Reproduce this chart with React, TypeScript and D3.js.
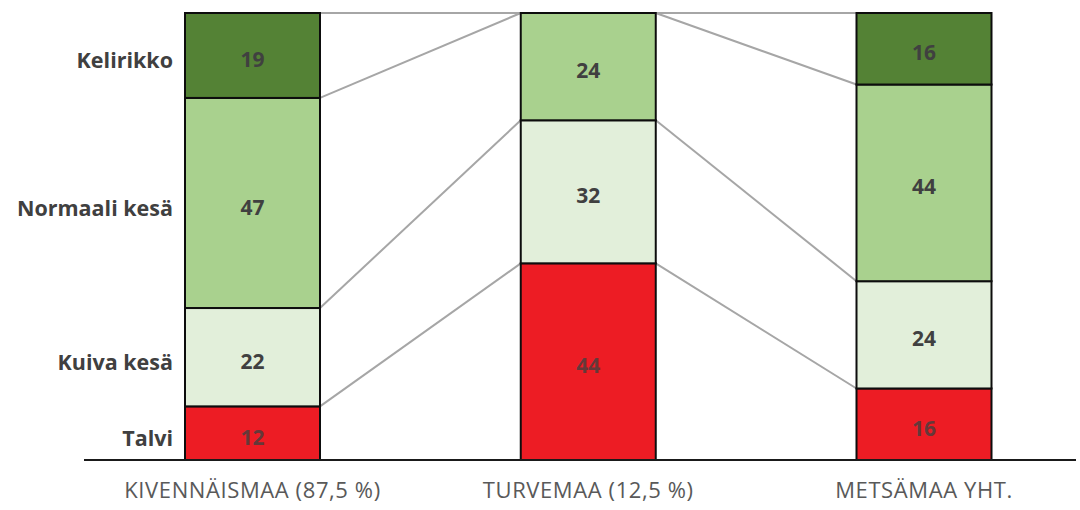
import React from "react";
import * as d3 from "d3";

// Stacked shares (%) per soil type, from bottom to top
const categories = ["KIVENNÄISMAA (87,5 %)", "TURVEMAA (12,5 %)", "METSÄMAA YHT."];
const seasons = ["Talvi", "Kuiva kesä", "Normaali kesä", "Kelirikko"];
const talvi = [12, 44, 16];
const kuivaKesa = [22, 32, 24];
const normaaliKesa = [47, 24, 44];
const kelirikko = [19, 0, 16];
const yTicks = [0, 100];

const seriesValues = [talvi, kuivaKesa, normaaliKesa, kelirikko];
const colors = ["#ED1C24", "#E2EFDA", "#A9D18E", "#548235"];

const W = 1080;
const H = 510;

export default function App() {
  const xc = d3.scalePoint().domain(categories).range([252.5, 924]);
  const bw = 135;
  const x = (c: string) => (xc(c) as number) - bw / 2;
  const y = d3.scaleLinear().domain([yTicks[0], yTicks[1]]).range([460, 13]);

  const table = categories.map((c, i) => {
    const row: Record<string, number | string> = { cat: c };
    seasons.forEach((s, k) => (row[s] = seriesValues[k][i]));
    return row;
  });
  const stack = d3.stack<Record<string, number | string>>().keys(seasons)(table as any);

  return (
    <svg width={W} height={H} style={{ position: "absolute", left: 0, top: 0, background: "#fff" }}
      fontFamily="'Open Sans', sans-serif">
      {/* connectors between neighbouring bars at each stack boundary */}
      {stack.map((layer, k) =>
        categories.slice(0, -1).map((c, i) => (
          <line key={`c${k}-${i}`}
            x1={x(c) + bw} y1={y(layer[i][1])}
            x2={x(categories[i + 1])} y2={y(layer[i + 1][1])}
            stroke="#A6A6A6" strokeWidth={2} />
        ))
      )}
      {/* bars */}
      {stack.map((layer, k) =>
        layer.map((d, i) => {
          const h = y(d[0]) - y(d[1]);
          if (h <= 0) return null;
          return (
            <g key={`b${k}-${i}`}>
              <rect x={x(categories[i])} y={y(d[1])} width={bw} height={h}
                fill={colors[k]} stroke="#0d0d0d" strokeWidth={2} />
              <text x={x(categories[i]) + bw / 2} y={(y(d[0]) + y(d[1])) / 2 + 4}
                dy="0.36em" textAnchor="middle" fontSize={21} fontWeight={700}
                fill="#404040" fillOpacity={k === 0 ? 0.8 : 1}>
                {seriesValues[k][i]}
              </text>
            </g>
          );
        })
      )}
      {/* baseline */}
      <line x1={84} x2={1076} y1={y(0)} y2={y(0)} stroke="#1a1a1a" strokeWidth={2} />
      {/* season labels next to the first bar */}
      {stack.map((layer, k) => (
        <text key={`s${k}`} x={173} y={(y(layer[0][0]) + y(layer[0][1])) / 2 + 5} dy="0.36em"
          textAnchor="end" fontSize={21.5} fontWeight={700} fill="#404040">
          {seasons[k]}
        </text>
      ))}
      {/* category labels */}
      {categories.map((c) => (
        <text key={c} x={xc(c) as number} y={498} textAnchor="middle"
          fontSize={22} letterSpacing={0.6} fill="#595959">
          {c}
        </text>
      ))}
    </svg>
  );
}
